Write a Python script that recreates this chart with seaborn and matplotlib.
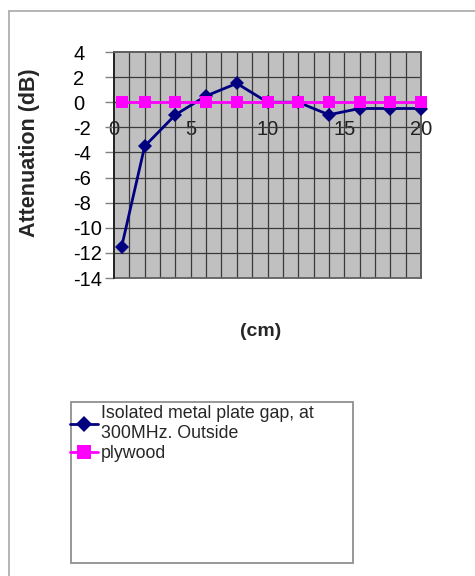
import matplotlib
matplotlib.use("Agg")
import matplotlib.pyplot as plt
from matplotlib.lines import Line2D
from matplotlib.patches import Rectangle
import numpy as np
import pandas as pd
import seaborn as sns

# Gap width (cm) and measured attenuation (dB)
gap_cm = [0.5, 2, 4, 6, 8, 10, 12, 14, 16, 18, 20]
metal_gap_db = [-11.5, -3.5, -1.0, 0.5, 1.5, 0.0, 0.0, -1.0, -0.5, -0.5, -0.5]
plywood_db = [0, 0, 0, 0, 0, 0, 0, 0, 0, 0, 0]

series_names = ["Isolated metal plate gap, at\n300MHz. Outside", "plywood"]
x_ticks = [0, 5, 10, 15, 20]
y_ticks = [4, 2, 0, -2, -4, -6, -8, -10, -12, -14]

sns.set_theme(style="white")
plt.rcParams["font.family"] = ["Liberation Sans", "DejaVu Sans"]

W, H = 475, 576
fig = plt.figure(figsize=(W / 100, H / 100), dpi=100)
fig.patch.set_facecolor("white")

left, right, top, bottom = 114, 421, 52, 278
ax = fig.add_axes([left / W, 1 - bottom / H, (right - left) / W, (bottom - top) / H])
ax.set_facecolor("#C0C0C0")

df = pd.DataFrame({
    "gap": gap_cm * 2,
    "db": metal_gap_db + plywood_db,
    "series": [series_names[0]] * len(gap_cm) + [series_names[1]] * len(gap_cm),
})

navy = "#000080"
magenta = "#FF00FF"

sns.lineplot(data=df[df.series == series_names[0]], x="gap", y="db", ax=ax,
             color=navy, lw=2, marker="D", markersize=7.5, markeredgewidth=0,
             sort=False, legend=False, zorder=3, clip_on=False)
sns.lineplot(data=df[df.series == series_names[1]], x="gap", y="db", ax=ax,
             color=magenta, lw=2, marker="s", markersize=8.5, markeredgewidth=0,
             sort=False, legend=False, zorder=4, clip_on=False)

ax.set_xlim(0, 20)
ax.set_ylim(-14, 4)
ax.set_xlabel("")
ax.set_ylabel("")

# Grid: every 1 cm vertically, every 2 dB horizontally
grid_color = "#3a3a3a"
for xv in range(1, 20):
    ax.axvline(xv, color=grid_color, lw=0.9, zorder=1)
for yv in y_ticks[1:-1]:
    ax.axhline(yv, color=grid_color, lw=0.9, zorder=1)

for s in ["top", "right", "left"]:
    ax.spines[s].set_color("#606060")
    ax.spines[s].set_linewidth(1.3)
ax.spines["left"].set_color("#202020")
ax.spines["bottom"].set_position(("data", 0))
ax.spines["bottom"].set_color(grid_color)
ax.spines["bottom"].set_linewidth(0.9)
ax.spines["bottom"].set_zorder(1)
ax.add_patch(Rectangle((0, -14), 20, 18, fill=False, ec="#606060", lw=1.3,
                       transform=ax.transData, zorder=2, clip_on=False))

ax.set_yticks(y_ticks)
ax.set_yticklabels([str(v) for v in y_ticks])
ax.tick_params(axis="y", left=True, length=6.5, width=1, color="#808080",
               pad=23, labelsize=14.5, labelcolor="black")
for lab in ax.get_yticklabels():
    lab.set_horizontalalignment("left")

ax.set_xticks(x_ticks)
ax.set_xticklabels([str(v) for v in x_ticks])
ax.tick_params(axis="x", bottom=True, length=0, pad=13, labelsize=14.5,
               labelcolor="#202020")

fig.text(30 / W, 1 - 153 / H, "Attenuation (dB)", rotation=90, fontsize=15.5,
         fontweight="bold", ha="center", va="center")
fig.text(261 / W, 1 - 332 / H, "(cm)", fontsize=14, fontweight="bold",
         ha="center", va="center")

# Outer chart border (top and left)
fig.add_artist(Line2D([9 / W, 9 / W], [0, 1 - 11 / H], transform=fig.transFigure,
                      color="#A8A8A8", lw=1.2))
fig.add_artist(Line2D([9 / W, 1], [1 - 11 / H, 1 - 11 / H], transform=fig.transFigure,
                      color="#A8A8A8", lw=1.2))

# Legend box
lx0, ly0, lx1, ly1 = 71, 402, 353, 563
fig.add_artist(Rectangle((lx0 / W, 1 - ly1 / H), (lx1 - lx0) / W, (ly1 - ly0) / H,
                         transform=fig.transFigure, fill=False, ec="#909090", lw=1.3))
handles = [
    Line2D([], [], color=navy, lw=2, marker="D", markersize=8, markeredgewidth=0),
    Line2D([], [], color=magenta, lw=2, marker="s", markersize=10, markeredgewidth=0),
]
fig.legend(handles, series_names, loc="upper left",
           bbox_to_anchor=(lx0 / W - 0.002, 1 - 405 / H), frameon=False,
           fontsize=12.8, handlelength=1.55, handletextpad=0.2, borderpad=0,
           borderaxespad=0, labelspacing=0.2)

fig.savefig("out.png", dpi=100)
